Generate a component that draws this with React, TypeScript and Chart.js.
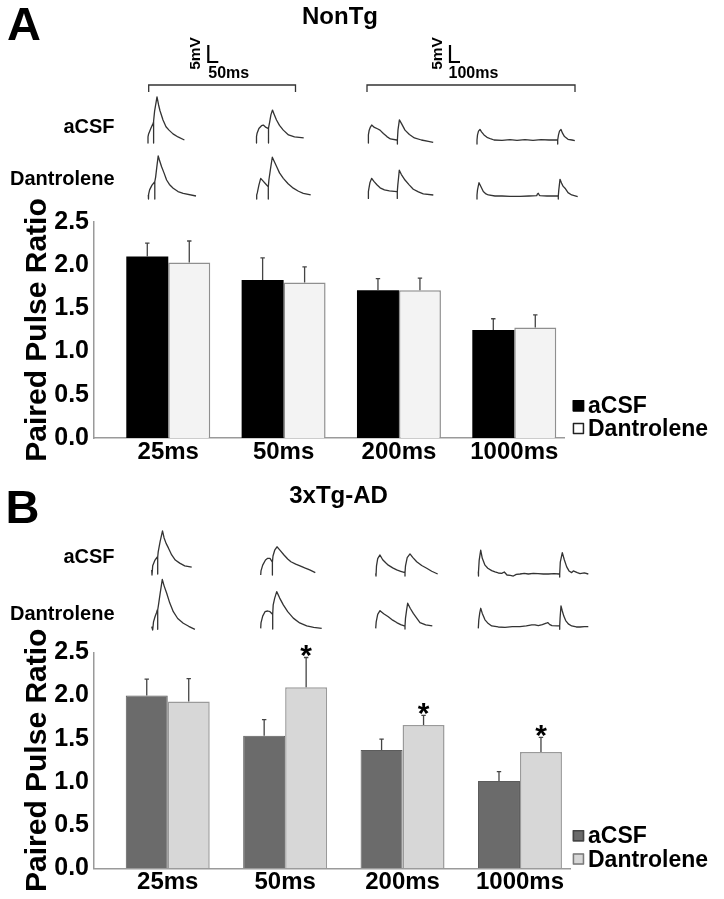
import React, { useEffect, useRef } from 'react';
import { Chart, registerables } from 'chart.js';

Chart.register(...registerables);

const FONT = "'Liberation Sans', Arial, Helvetica, sans-serif";

// ---------------- DATA ----------------
const categories = ['25ms', '50ms', '200ms', '1000ms'];
const seriesNames = ['aCSF', 'Dantrolene'];
const yTicks = [0, 0.5, 1.0, 1.5, 2.0, 2.5];

// Panel A : NonTg
const nonTgACSF = [2.10, 1.83, 1.71, 1.25];
const nonTgACSFErr = [0.155, 0.255, 0.135, 0.13];
const nonTgDant = [2.03, 1.80, 1.71, 1.28];
const nonTgDantErr = [0.25, 0.18, 0.14, 0.145];
const nonTgDantSig = [false, false, false, false];

// Panel B : 3xTg-AD
const tgACSF = [2.00, 1.535, 1.37, 1.01];
const tgACSFErr = [0.19, 0.185, 0.125, 0.11];
const tgDant = [1.93, 2.095, 1.66, 1.345];
const tgDantErr = [0.265, 0.345, 0.11, 0.17];
const tgDantSig = [false, true, true, true];

// Example traces: [time (ms), voltage (mV)] pairs
type Pt = [number, number];
const trNonTgACSF25: Pt[] = [[0,0.9],[0,-0.9],[0,0.9],[3,1.8],[15,3.5],[24,4.7],[28,5.3],[28,-0.9],[28,5.6],[33,8.5],[45,12.7],[53,10.3],[60,8.6],[75,5.9],[90,3.9],[105,2.9],[125,1.8],[150,0.9],[182,0]];
const trNonTgACSF50: Pt[] = [[0,1.0],[0,-0.9],[0,1.0],[3,2.0],[12,3.4],[25,4.2],[34,4.4],[45,3.8],[58,3.4],[60,3.5],[60,-0.9],[60,3.5],[66,5.3],[72,7.4],[80,8.8],[88,7.6],[100,5.9],[115,4.3],[134,2.9],[160,1.5],[190,0.9],[236,0.6]];
const trNonTgACSF200: Pt[] = [[0,1.5],[0,-0.9],[0,1.5],[8,2.9],[20,3.8],[33,4.4],[60,3.7],[90,3.3],[116,2.9],[150,1.9],[185,1.0],[220,0.3],[283,0],[290,0],[290,-1.2],[290,0],[296,3.0],[310,5.9],[330,4.9],[366,2.9],[410,1.6],[460,0.6],[530,0],[600,-0.4],[648,-0.7]];
const trNonTgACSF1000: Pt[] = [[0,0],[0,-1.2],[0,0],[5,1.5],[15,2.6],[30,3.1],[45,2.4],[70,1.5],[100,0.8],[140,0.3],[170,0],[250,-0.1],[330,0.1],[400,-0.1],[480,0.1],[560,-0.1],[640,0.1],[720,0],[793,0],[807,0],[807,-1.2],[807,0],[815,1.5],[825,2.6],[840,3.1],[855,2.0],[875,1.0],[910,0.2],[950,0],[978,-0.2]];
const trNonTgDant25: Pt[] = [[1.5,0.3],[2.5,-0.9],[3,0.5],[8,1.8],[20,3.2],[34,4.2],[34,-0.9],[34,4.2],[38,5.5],[44,8.5],[51,11.8],[57,10.6],[68,8.6],[80,6.8],[93,4.7],[107,3.4],[126,2.3],[150,1.3],[176,0.8],[240,0]];
const trNonTgDant50: Pt[] = [[1,0.3],[1,-0.9],[1,0.3],[4,0.9],[12,3.2],[21,5.2],[30,4.6],[45,3.6],[59,2.7],[59,-0.9],[59,2.7],[62,4.7],[70,8.0],[79,11.4],[90,10.0],[101,8.6],[115,6.8],[134,5.2],[158,3.6],[184,2.3],[210,1.4],[234,0.8],[271,0.3]];
const trNonTgDant200: Pt[] = [[0,1.3],[0,-0.7],[0,1.3],[6,2.4],[16,4.0],[33,5.2],[55,4.3],[85,3.3],[117,2.4],[160,1.8],[210,1.5],[283,1.3],[289,1.3],[289,-0.7],[289,1.3],[294,3.2],[302,5.5],[309,7.6],[330,6.3],[366,4.7],[410,3.2],[449,2.0],[500,1.2],[549,0.6],[649,0.3]];
const trNonTgDant1000: Pt[] = [[0,0.3],[0,-0.9],[0,0.3],[5,1.8],[20,3.9],[35,3.0],[63,1.3],[90,0.6],[113,0.3],[180,0],[250,0],[330,-0.1],[430,-0.1],[520,0],[597,0.1],[604,0.6],[613,0.8],[622,0.3],[630,0.1],[700,0],[807,0],[813,0],[813,-0.9],[813,0],[818,1.8],[830,4.9],[845,3.8],[860,2.9],[880,2.3],[910,1.0],[947,0.3],[1007,-0.2]];

const trTgACSF25: Pt[] = [[0,1.2],[1.5,-0.3],[5,2.4],[16.5,4.1],[28,5.0],[30,5.0],[30,0],[30,5.0],[32.5,6.5],[42,9.5],[54,12.7],[62,10.6],[72,9.0],[84,7.6],[100,5.6],[118,4.1],[140,3.2],[165,2.4],[200,2.0]];
const trTgACSF50: Pt[] = [[0,-0.3],[1.5,0.9],[10,2.6],[24,4.1],[35,4.6],[46.5,4.6],[58.5,3.5],[58.5,-0.3],[58.5,3.5],[61.5,5.3],[70,7.0],[81.5,8.0],[95,7.1],[116.5,5.6],[135,4.4],[151,3.6],[175,2.9],[196.5,2.4],[220,1.8],[245,1.2],[273,0.4]];
const trTgACSF200: Pt[] = [[0,0.2],[3,-0.6],[8,2.4],[20,4.5],[43,5.6],[70,4.2],[100,3.3],[126,2.6],[170,1.8],[210,1.2],[250,0.8],[293,0.4],[293,-0.6],[293,0.4],[298,2.4],[315,4.8],[343,5.9],[370,4.9],[410,3.6],[460,2.5],[510,1.7],[560,0.8],[620,0]];
const trTgACSF1000: Pt[] = [[0,0.7],[2,-0.6],[2,0.7],[9,4.1],[24,7.0],[40,4.6],[67,2.6],[95,1.7],[134,1.0],[167,0.6],[200,0.3],[234,0.2],[260,0.6],[287,-0.3],[320,-0.4],[350,-0.6],[380,-0.1],[417,0],[460,0.2],[500,0],[550,0.2],[597,0.1],[650,0],[700,0],[760,0.1],[807,0],[814,0],[814,-0.9],[814,0],[820,3.5],[840,6.3],[860,4.2],[884,2.1],[907,0.9],[934,0.4],[950,0.9],[967,0.7],[990,0.4],[1017,0.1],[1060,0.3],[1100,0]];
const trTgDant25: Pt[] = [[0,0.4],[5,-0.6],[9,1.8],[16.5,3.3],[24,4.5],[28,5.3],[30,5.3],[30,-0.4],[30,5.3],[34,6.8],[43,10.5],[53,14.3],[62,12.4],[75,10.2],[90,7.4],[108,4.8],[130,2.8],[158,1.4],[185,0.5],[216,-0.4]];
const trTgDant50: Pt[] = [[0,-0.1],[1.5,1.5],[10,3.5],[21.5,4.8],[35,5.0],[46.5,4.8],[58,4.1],[60,4.1],[60,-0.3],[60,4.1],[62.5,6.8],[70,8.8],[80,10.7],[95,8.8],[113,6.8],[135,4.8],[163,2.9],[195,1.5],[230,0.6],[265,0.2],[305,-0.1]];
const trTgDant200: Pt[] = [[0,-0.1],[5,1.8],[20,4.0],[43,5.1],[80,4.2],[126,3.3],[170,2.3],[210,1.6],[250,1.0],[286,0.6],[293,0.6],[293,-0.3],[293,0.6],[298,2.9],[310,5.5],[320,7.3],[345,5.8],[376,4.3],[410,2.9],[443,1.6],[500,0.9],[566,0.6]];
const trTgDant1000: Pt[] = [[0,-0.1],[5,2.4],[15,4.5],[24,5.8],[40,4.3],[67,2.4],[100,1.3],[134,0.6],[200,0.3],[267,0.2],[340,0.4],[417,0.4],[480,0.6],[535,0.9],[567,0.9],[600,0.7],[640,1.0],[680,1.4],[694,1.6],[715,1.0],[737,0.7],[790,0.6],[807,0.6],[814,0.6],[814,-0.4],[814,0.6],[818,3.0],[827,6.5],[840,5.0],[855,3.5],[874,2.2],[900,1.2],[934,0.6],[980,0.3],[1017,0.3],[1060,0.4],[1100,0.4]];

// scale-bar values
const scaleMv = 5;
const scaleMs = [50, 100];

// ---------------- LAYOUT / STYLE ----------------
const PX_PER_MV = 3.4;
const PX_PER_MS = [0.2, 0.2, 0.1, 0.1];

const panelA = {
  top: 0, height: 460,
  padding: { top: 222, right: 160, bottom: 0, left: 0 },
  xMin: -0.644, xMax: 3.431, catPct: 0.728,
  acsf: nonTgACSF, acsfErr: nonTgACSFErr, dant: nonTgDant, dantErr: nonTgDantErr, dantSig: nonTgDantSig,
  colors: {
    acsfFill: '#000000', acsfBorder: '#000000', acsfBW: 0,
    dantFill: '#f3f3f3', dantBorder: '#8f8f8f', dantBW: 1.5,
    legAcsfFill: '#000000', legAcsfStroke: '#000000',
    legDantFill: '#ffffff', legDantStroke: '#222222',
  },
  letter: 'A', letterX: 7, letterY: 40,
  title: 'NonTg', titleX: 340, titleY: 24,
  rowLabelX: 114.5, rowLabelY: [133, 185],
  traceX0: [148, 256.5, 368.4, 477], traceBase: [140, 196],
  traces: [[trNonTgACSF25, trNonTgACSF50, trNonTgACSF200, trNonTgACSF1000], [trNonTgDant25, trNonTgDant50, trNonTgDant200, trNonTgDant1000]],
  scaleBars: [
    { x: 208.3, bottom: 62, mvX: 200, mvY: 53.5, msX: 208.3, msY: 78.3, ms: scaleMs[0], pxPerMs: PX_PER_MS[0] },
    { x: 450, bottom: 62, mvX: 442, mvY: 53.5, msX: 448.5, msY: 78.3, ms: scaleMs[1], pxPerMs: PX_PER_MS[2] },
  ],
  brackets: [{ x1: 148.7, x2: 295.5, y: 85, tick: 7 }, { x1: 367, x2: 575, y: 85, tick: 7 }],
  legendX: 572.7, legendSqY: [400, 422.7], legendTextY: [412.7, 436],
};

const panelB = {
  top: 460, height: 439,
  padding: { top: 192.3, right: 154, bottom: 8.7, left: 0 },
  xMin: -0.628, xMax: 3.426, catPct: 0.715,
  acsf: tgACSF, acsfErr: tgACSFErr, dant: tgDant, dantErr: tgDantErr, dantSig: tgDantSig,
  colors: {
    acsfFill: '#6b6b6b', acsfBorder: '#5c5c5c', acsfBW: 1,
    dantFill: '#d7d7d7', dantBorder: '#9a9a9a', dantBW: 1.5,
    legAcsfFill: '#6b6b6b', legAcsfStroke: '#444444',
    legDantFill: '#d7d7d7', legDantStroke: '#7a7a7a',
  },
  letter: 'B', letterX: 5.5, letterY: 63.3,
  title: '3xTg-AD', titleX: 338.6, titleY: 42.7,
  rowLabelX: 114.5, rowLabelY: [103, 160],
  traceX0: [151.7, 260.7, 375.7, 478.3], traceBase: [114, 168],
  traces: [[trTgACSF25, trTgACSF50, trTgACSF200, trTgACSF1000], [trTgDant25, trTgDant50, trTgDant200, trTgDant1000]],
  scaleBars: [] as any[],
  brackets: [] as any[],
  legendX: 572.7, legendSqY: [370, 393.3], legendTextY: [382.7, 406.7],
};

type Panel = typeof panelA;

function text(ctx: CanvasRenderingContext2D, s: string, x: number, y: number, size: number, align: CanvasTextAlign = 'left', rot = 0) {
  ctx.save();
  ctx.font = `bold ${size}px ${FONT}`;
  ctx.fillStyle = '#000';
  ctx.textAlign = align;
  ctx.textBaseline = 'alphabetic';
  ctx.translate(x, y);
  if (rot) ctx.rotate(rot);
  ctx.fillText(s, 0, 0);
  ctx.restore();
}

function panelPlugin(p: Panel) {
  return {
    id: 'panelDecor',
    afterDraw(chart: any) {
      const ctx: CanvasRenderingContext2D = chart.ctx;
      const yScale = chart.scales.y;
      ctx.save();

      // header texts
      text(ctx, p.letter, p.letterX, p.letterY, 47);
      text(ctx, p.title, p.titleX, p.titleY, 24, 'center');
      seriesNames.forEach((n, r) => text(ctx, n, p.rowLabelX, p.rowLabelY[r], 20, 'right'));

      // scale bars
      p.scaleBars.forEach((sb: any) => {
        ctx.strokeStyle = '#000';
        ctx.lineWidth = 2.2;
        ctx.lineCap = 'butt';
        ctx.beginPath();
        ctx.moveTo(sb.x, sb.bottom - scaleMv * PX_PER_MV);
        ctx.lineTo(sb.x, sb.bottom);
        ctx.lineTo(sb.x + sb.ms * sb.pxPerMs, sb.bottom);
        ctx.stroke();
        text(ctx, `${scaleMv}mV`, sb.mvX, sb.mvY, 15.5, 'center', -Math.PI / 2);
        text(ctx, `${sb.ms}ms`, sb.msX, sb.msY, 16, 'left');
      });

      // brackets
      p.brackets.forEach((b: any) => {
        ctx.strokeStyle = '#333';
        ctx.lineWidth = 1.3;
        ctx.beginPath();
        ctx.moveTo(b.x1, b.y + b.tick);
        ctx.lineTo(b.x1, b.y);
        ctx.lineTo(b.x2, b.y);
        ctx.lineTo(b.x2, b.y + b.tick);
        ctx.stroke();
      });

      // traces
      ctx.strokeStyle = '#333';
      ctx.lineWidth = 1.3;
      ctx.lineJoin = 'round';
      p.traces.forEach((row, r) => {
        row.forEach((pts, c) => {
          const x0 = p.traceX0[c];
          const base = p.traceBase[r];
          ctx.beginPath();
          pts.forEach(([t, v], i) => {
            const x = x0 + t * PX_PER_MS[c];
            const y = base - v * PX_PER_MV;
            if (i === 0) ctx.moveTo(x, y); else ctx.lineTo(x, y);
          });
          ctx.stroke();
        });
      });

      // error bars and significance
      chart.data.datasets.forEach((ds: any, di: number) => {
        const meta = chart.getDatasetMeta(di);
        meta.data.forEach((bar: any, i: number) => {
          const val = ds.data[i].y;
          const x = bar.x;
          const y0 = yScale.getPixelForValue(val);
          const y1 = yScale.getPixelForValue(val + ds.errors[i]);
          ctx.strokeStyle = '#444';
          ctx.lineWidth = 1.3;
          ctx.beginPath();
          ctx.moveTo(x, y0);
          ctx.lineTo(x, y1);
          ctx.moveTo(x - 2.2, y1);
          ctx.lineTo(x + 2.2, y1);
          ctx.stroke();
          if (ds.sig && ds.sig[i]) {
            ctx.font = `bold 30px ${FONT}`;
            ctx.fillStyle = '#000';
            ctx.textAlign = 'center';
            ctx.textBaseline = 'alphabetic';
            const m = ctx.measureText('*');
            const mid = (-m.actualBoundingBoxAscent + m.actualBoundingBoxDescent) / 2;
            ctx.fillText('*', x, y1 - 6 - mid);
          }
        });
      });

      // legend
      chart.data.datasets.forEach((ds: any, di: number) => {
        const sy = p.legendSqY[di];
        ctx.fillStyle = ds.legendFill;
        ctx.fillRect(p.legendX, sy, 11.5, 11.5);
        ctx.strokeStyle = ds.legendStroke;
        ctx.lineWidth = 1.5;
        ctx.strokeRect(p.legendX + 0.75, sy + 0.75, 10, 10);
        text(ctx, ds.label, p.legendX + 15.3, p.legendTextY[di], 23, 'left');
      });

      ctx.restore();
    },
  };
}

function makeChart(canvas: HTMLCanvasElement, p: Panel) {
  const c = p.colors;
  const datasets: any[] = [
    {
      label: seriesNames[0],
      data: p.acsf.map((y, i) => ({ x: i, y })),
      backgroundColor: c.acsfFill, borderColor: c.acsfBorder, borderWidth: c.acsfBW,
      errors: p.acsfErr, sig: [], legendFill: c.legAcsfFill, legendStroke: c.legAcsfStroke,
    },
    {
      label: seriesNames[1],
      data: p.dant.map((y, i) => ({ x: i, y })),
      backgroundColor: c.dantFill, borderColor: c.dantBorder, borderWidth: c.dantBW,
      errors: p.dantErr, sig: p.dantSig, legendFill: c.legDantFill, legendStroke: c.legDantStroke,
    },
  ];
  return new Chart(canvas, {
    type: 'bar',
    data: { datasets },
    options: {
      responsive: false,
      animation: false,
      devicePixelRatio: 1,
      layout: { padding: p.padding },
      datasets: { bar: { categoryPercentage: p.catPct, barPercentage: 1 } } as any,
      plugins: { legend: { display: false }, tooltip: { enabled: false }, title: { display: false } },
      scales: {
        x: {
          type: 'linear', min: p.xMin, max: p.xMax, offset: false,
          grid: { display: false, offset: false, drawTicks: false },
          border: { display: true, color: '#9a9a9a', width: 1.5 },
          afterBuildTicks: (s: any) => { s.ticks = categories.map((_, i) => ({ value: i })); },
          afterFit: (s: any) => { s.height = 22; },
          ticks: {
            autoSkip: false, maxRotation: 0, minRotation: 0, padding: 0, color: '#000',
            font: { family: FONT, size: 24, weight: 'bold' },
            callback: (v: any) => categories[v] ?? '',
          },
        },
        y: {
          type: 'linear', min: 0, max: 2.5,
          grid: { display: false, drawTicks: false },
          border: { display: true, color: '#9a9a9a', width: 1.5 },
          afterBuildTicks: (s: any) => { s.ticks = yTicks.map((v) => ({ value: v })); },
          afterFit: (s: any) => { s.width = 94; },
          ticks: {
            padding: 5, color: '#000',
            font: { family: FONT, size: 25, weight: 'bold' },
            callback: (v: any) => Number(v).toFixed(1),
          },
          title: {
            display: true, text: 'Paired Pulse Ratio', color: '#000',
            font: { family: FONT, size: 30, weight: 'bold' },
            padding: { top: 20, bottom: 0 },
          },
        },
      },
    } as any,
    plugins: [panelPlugin(p)],
  });
}

function PanelChart({ panel }: { panel: Panel }) {
  const ref = useRef<HTMLCanvasElement>(null);
  useEffect(() => {
    const chart = makeChart(ref.current!, panel);
    return () => chart.destroy();
  }, [panel]);
  return (
    <canvas
      ref={ref}
      width={724}
      height={panel.height}
      style={{ position: 'absolute', left: 0, top: panel.top, width: 724, height: panel.height, display: 'block' }}
    />
  );
}

export default function App() {
  return (
    <div style={{ position: 'absolute', left: 0, top: 0, width: 724, height: 899, background: '#fff' }}>
      <PanelChart panel={panelA} />
      <PanelChart panel={panelB as any} />
    </div>
  );
}
